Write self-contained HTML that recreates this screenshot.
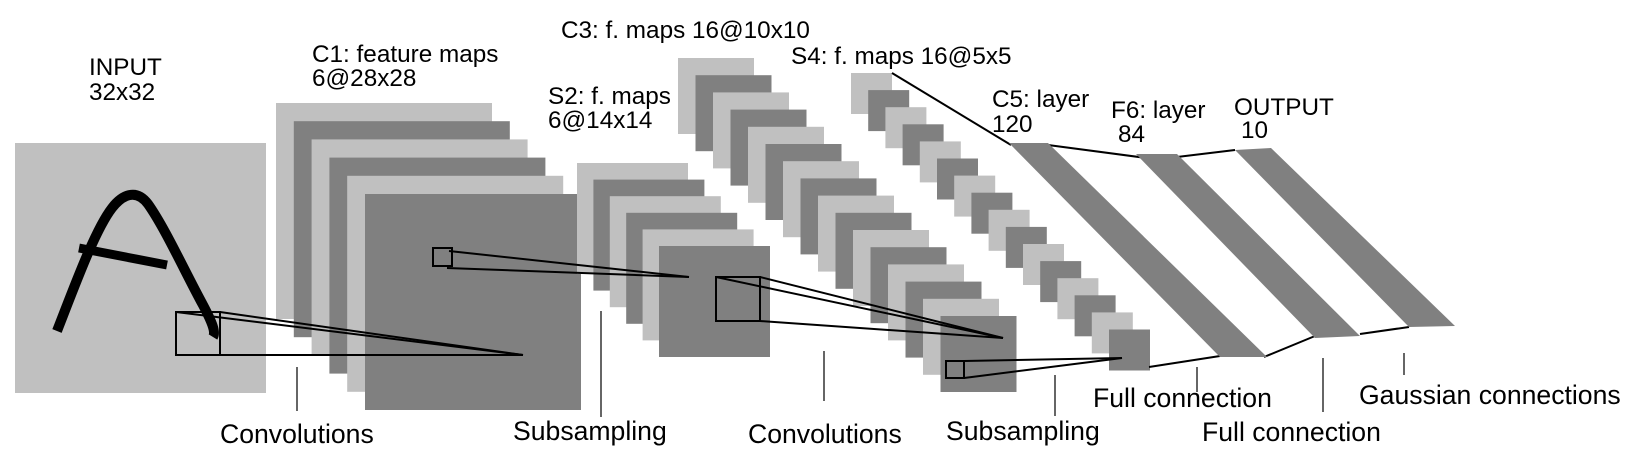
<!DOCTYPE html>
<html><head><meta charset="utf-8"><style>
html,body{margin:0;padding:0;background:#fff;}
svg{display:block;}
text{font-family:"Liberation Sans",sans-serif;fill:#000;}
.t{font-size:24.3px}.b{font-size:26.6px}
</style></head><body>
<svg id="s" width="1636" height="459" viewBox="0 0 1636 459" xmlns="http://www.w3.org/2000/svg">
<rect x="15" y="143" width="251" height="250" fill="#c0c0c0"/>
<path d="M57,331 C75,285 95,230 112,208 C122,195 136,188 148,204 C165,228 185,272 203,305 C212,322 216,332 213,337" fill="none" stroke="#000" stroke-width="10"/>
<line x1="79" y1="248" x2="167" y2="265" stroke="#000" stroke-width="9"/>
<g id="maps"></g>
<g id="lines" fill="none" stroke="#000" stroke-width="2">
<rect x="176" y="312" width="44" height="43"/>
<line x1="176" y1="312" x2="523" y2="355"/>
<line x1="220" y1="312" x2="523" y2="355"/>
<line x1="176" y1="355" x2="523" y2="355"/>
<rect x="433" y="248" width="19" height="18"/>
<line x1="449" y1="251" x2="689" y2="277"/>
<line x1="447" y1="268" x2="689" y2="277"/>
<rect x="716" y="277" width="44" height="44"/>
<line x1="716" y1="277" x2="1003" y2="338"/>
<line x1="760" y1="277" x2="1003" y2="338"/>
<line x1="760" y1="321" x2="1003" y2="338"/>
<line x1="716" y1="321" x2="760" y2="321"/>
<rect x="946" y="361" width="18" height="17"/>
<line x1="964" y1="361" x2="1122" y2="358"/>
<line x1="964" y1="378" x2="1122" y2="358"/>
<line x1="892" y1="73" x2="1011" y2="145"/>
<line x1="1048" y1="145" x2="1154" y2="159"/>
<line x1="1177" y1="157" x2="1235" y2="150"/>
<line x1="1149" y1="367" x2="1220" y2="356"/>
<line x1="1264" y1="357" x2="1315" y2="336"/>
<line x1="1360" y1="334" x2="1409" y2="327"/>
</g>
<polygon points="1009,143 1048,143 1267,357 1220,357" fill="#808080"/>
<polygon points="1136,154 1177,154 1360,336 1315,338" fill="#808080"/>
<polygon points="1235,150 1271,148 1455,326 1409,327" fill="#808080"/>
<g stroke="#333" stroke-width="1.5">
<line x1="297" y1="367" x2="297" y2="411"/>
<line x1="601" y1="311" x2="601" y2="417"/>
<line x1="824" y1="351" x2="824" y2="401"/>
<line x1="1055" y1="375" x2="1055" y2="416"/>
<line x1="1197" y1="367" x2="1197" y2="392"/>
<line x1="1323" y1="358" x2="1323" y2="412"/>
<line x1="1404" y1="353" x2="1404" y2="375"/>
</g>
<text class="t" x="89" y="75">INPUT</text>
<text class="t" x="89" y="100">32x32</text>
<text class="t" x="312" y="62">C1: feature maps</text>
<text class="t" x="312" y="86">6@28x28</text>
<text class="t" x="561" y="38">C3: f. maps 16@10x10</text>
<text class="t" x="548" y="104">S2: f. maps</text>
<text class="t" x="548" y="128">6@14x14</text>
<text class="t" x="791" y="64">S4: f. maps 16@5x5</text>
<text class="t" x="992" y="107">C5: layer</text>
<text class="t" x="992" y="132">120</text>
<text class="t" x="1111" y="118">F6: layer</text>
<text class="t" x="1118" y="142">84</text>
<text class="t" x="1234" y="115">OUTPUT</text>
<text class="t" x="1241" y="138">10</text>
<text class="b" x="220" y="443">Convolutions</text>
<text class="b" x="513" y="440">Subsampling</text>
<text class="b" x="748" y="443">Convolutions</text>
<text class="b" x="946" y="440">Subsampling</text>
<text class="b" x="1093" y="407">Full connection</text>
<text class="b" x="1202" y="441">Full connection</text>
<text class="b" x="1359" y="404">Gaussian connections</text>
</svg>
<script>
var stackNames = ['c1', 's2', 'c3', 's4'];
var stackCounts = [6, 6, 16, 16];
var stackX = [276, 577, 678, 851];
var stackY = [103, 163, 58, 73];
var stackDx = [17.8, 16.4, 17.5, 17.2];
var stackDy = [18.2, 16.6, 17.2, 17.1];
var stackSize = [216, 111, 76, 41];
var g = document.getElementById('maps');
var ns = 'http://www.w3.org/2000/svg';
for (var k = 0; k < stackNames.length; k++) {
  for (var i = 0; i < stackCounts[k]; i++) {
    var r = document.createElementNS(ns, 'rect');
    r.setAttribute('x', (stackX[k] + i * stackDx[k]).toFixed(1));
    r.setAttribute('y', (stackY[k] + i * stackDy[k]).toFixed(1));
    r.setAttribute('width', stackSize[k]);
    r.setAttribute('height', stackSize[k]);
    r.setAttribute('fill', i % 2 ? '#808080' : '#c0c0c0');
    
    
    g.appendChild(r);
  }
}
</script>
</body></html>
